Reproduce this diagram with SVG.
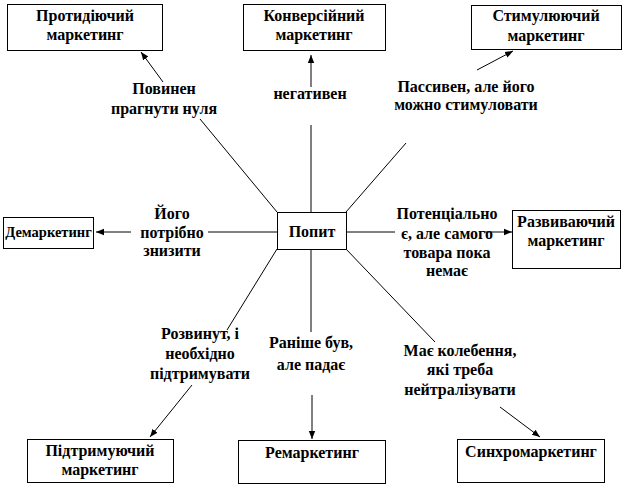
<svg xmlns="http://www.w3.org/2000/svg" width="630" height="486" viewBox="0 0 630 486">
<style>
.box{fill:#fff;stroke:#000;stroke-width:1}
.t{font-family:"Liberation Serif","Times New Roman","DejaVu Serif",serif;font-weight:bold;font-size:16px;fill:#000;text-anchor:middle}
.ln{stroke:#000;stroke-width:1;fill:none}
.ar{stroke:#000;stroke-width:1;fill:none;marker-end:url(#ah)}
</style>
<defs>
<marker id="ah" viewBox="0 0 10 10" refX="10" refY="5" markerWidth="8" markerHeight="8" markerUnits="userSpaceOnUse" orient="auto">
<path d="M0,1 L10,5 L0,9 Z" fill="#000"/>
</marker>
</defs>
<rect width="630" height="486" fill="#fff"/>
<g id="connectors">
<line class="ln" x1="277" y1="212" x2="200" y2="119"/>
<line class="ar" x1="163" y1="82" x2="141" y2="52"/>
<line class="ln" x1="311" y1="212" x2="311" y2="125"/>
<line class="ar" x1="311" y1="87" x2="311" y2="55"/>
<line class="ln" x1="346" y1="212" x2="406" y2="143"/>
<line class="ar" x1="477" y1="70" x2="513" y2="51"/>
<line class="ln" x1="277" y1="232" x2="208" y2="232"/>
<line class="ar" x1="131" y1="232" x2="96" y2="232"/>
<line class="ln" x1="346" y1="232" x2="395" y2="232"/>
<line class="ar" x1="484" y1="232" x2="512" y2="232"/>
<line class="ln" x1="277" y1="249" x2="227" y2="330"/>
<line class="ar" x1="192" y1="385" x2="150" y2="437"/>
<line class="ln" x1="311" y1="249" x2="311" y2="332"/>
<line class="ar" x1="312" y1="395" x2="312" y2="439"/>
<line class="ln" x1="346" y1="249" x2="435" y2="342"/>
<line class="ar" x1="500" y1="407" x2="540" y2="437"/>
</g>
<g id="n-protydiyuchyi"><rect class="box" x="7.5" y="4.5" width="155" height="46"/><text class="t" x="85" y="21">Протидіючий</text><text class="t" x="85" y="40">маркетинг</text></g>
<g id="n-konversiinyi"><rect class="box" x="243.5" y="4.5" width="142" height="46"/><text class="t" x="314" y="21">Конверсійний</text><text class="t" x="314" y="40">маркетинг</text></g>
<g id="n-stymuliuiuchyi"><rect class="box" x="471.5" y="5.5" width="150" height="44"/><text class="t" x="546" y="21">Стимулюючий</text><text class="t" x="546" y="41">маркетинг</text></g>
<g id="n-demarketynh"><rect class="box" x="3.5" y="217.5" width="90" height="31"/><text class="t" x="48.5" y="237" style="font-size:14.5px">Демаркетинг</text></g>
<g id="n-popyt"><rect class="box" x="277.5" y="212.5" width="69" height="37"/><text class="t" x="312" y="237">Попит</text></g>
<g id="n-rozvyvaiuchyi"><rect class="box" x="512.5" y="210.5" width="108" height="58"/><text class="t" x="566" y="227">Развиваючий</text><text class="t" x="566" y="246">маркетинг</text></g>
<g id="n-pidtrymuiuchyi"><rect class="box" x="27.5" y="439.5" width="146" height="43"/><text class="t" x="100" y="456">Підтримуючий</text><text class="t" x="100" y="475">маркетинг</text></g>
<g id="n-remarketynh"><rect class="box" x="238.5" y="440.5" width="147" height="43"/><text class="t" x="312" y="458">Ремаркетинг</text></g>
<g id="n-synkhromarketynh"><rect class="box" x="457.5" y="439.5" width="147" height="43"/><text class="t" x="531" y="457">Синхромаркетинг</text></g>
<g id="labels">
<text class="t" x="164" y="94">Повинен</text>
<text class="t" x="164" y="114">прагнути нуля</text>
<text class="t" x="310" y="99">негативен</text>
<text class="t" x="466" y="92">Пассивен, але його</text>
<text class="t" x="466" y="110">можно стимуловати</text>
<text class="t" x="172" y="219">Його</text>
<text class="t" x="172" y="238">потрібно</text>
<text class="t" x="172" y="256">знизити</text>
<text class="t" x="447" y="219">Потенціально</text>
<text class="t" x="447" y="239">є, але самого</text>
<text class="t" x="447" y="258">товара пока</text>
<text class="t" x="447" y="276">немає</text>
<text class="t" x="200" y="339">Розвинут, і</text>
<text class="t" x="200" y="359">необхідно</text>
<text class="t" x="200" y="379">підтримувати</text>
<text class="t" x="311" y="348">Раніше був,</text>
<text class="t" x="311" y="370">але падає</text>
<text class="t" x="460" y="356">Має колебення,</text>
<text class="t" x="460" y="375">які треба</text>
<text class="t" x="460" y="395">нейтралізувати</text>
</g>
</svg>
